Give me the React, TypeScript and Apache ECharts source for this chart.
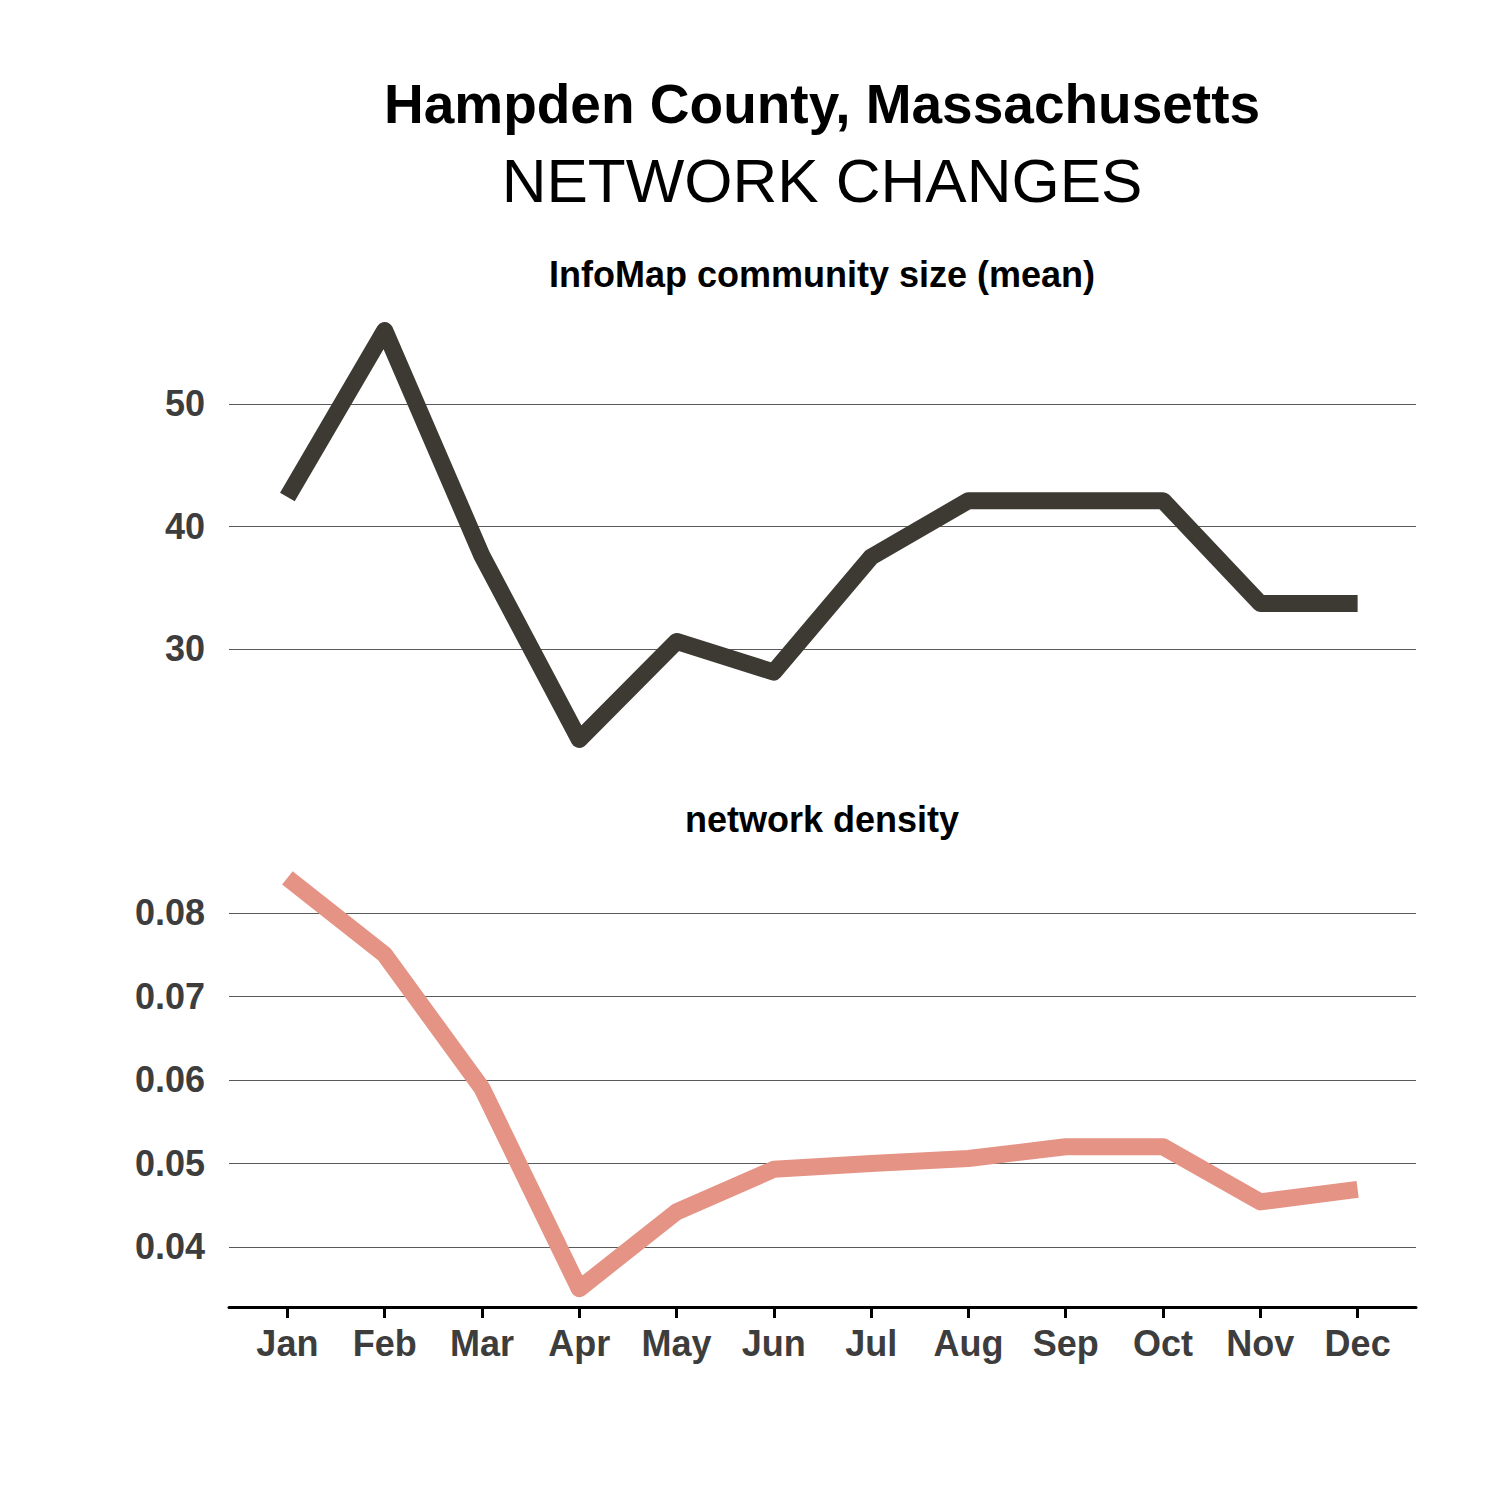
import React, { useEffect, useRef } from "react";
import * as echarts from "echarts";

const months = ["Jan", "Feb", "Mar", "Apr", "May", "Jun", "Jul", "Aug", "Sep", "Oct", "Nov", "Dec"];
const communitySize = [42.4, 56.0, 37.6, 22.6, 30.6, 28.1, 37.5, 42.1, 42.1, 42.1, 33.7, 33.7];
const networkDensity = [0.0842, 0.075, 0.059, 0.035, 0.0442, 0.0493, 0.05, 0.0506, 0.052, 0.052, 0.0454, 0.0469];
const topTicks = [30, 40, 50];
const bottomTicks = [0.04, 0.05, 0.06, 0.07, 0.08];
const monthIdx = months.map((_, i) => i);

const FONT = "'Liberation Sans', Arial, Helvetica, sans-serif";

export default function App() {
  const ref = useRef<HTMLDivElement>(null);
  useEffect(() => {
    if (!ref.current) return;
    const chart = echarts.init(ref.current, null, { renderer: "svg" });
    const gridLine = { color: "#5a5a5a", width: 1 };
    const yLabel = {
      color: "#3d3d3d",
      fontFamily: FONT,
      fontWeight: "bold" as const,
      fontSize: 36,
      margin: 24,
    };
    const xCommon = {
      type: "value" as const,
      min: -0.6,
      max: 11.6,
      splitLine: { show: false },
    };
    chart.setOption({
      animation: false,
      backgroundColor: "#ffffff",
      graphic: [
        {
          type: "text",
          x: 822,
          y: 104,
          style: {
            text: "Hampden County, Massachusetts",
            font: `bold 55px ${FONT}`,
            fill: "#000",
            textAlign: "center",
            textVerticalAlign: "middle",
          },
        },
        {
          type: "text",
          x: 822,
          y: 180,
          style: {
            text: "NETWORK CHANGES",
            font: `62px ${FONT}`,
            fill: "#000",
            textAlign: "center",
            textVerticalAlign: "middle",
          },
        },
        {
          type: "text",
          x: 822,
          y: 274,
          style: {
            text: "InfoMap community size (mean)",
            font: `bold 36px ${FONT}`,
            fill: "#000",
            textAlign: "center",
            textVerticalAlign: "middle",
          },
        },
        {
          type: "text",
          x: 822,
          y: 819,
          style: {
            text: "network density",
            font: `bold 36px ${FONT}`,
            fill: "#000",
            textAlign: "center",
            textVerticalAlign: "middle",
          },
        },
      ],
      grid: [
        { left: 229, top: 306, width: 1187, height: 453 },
        { left: 229, top: 854.5, width: 1187, height: 452.5 },
      ],
      xAxis: [
        {
          ...xCommon,
          gridIndex: 0,
          axisLine: { show: false },
          axisTick: { show: false },
          axisLabel: { show: false },
        },
        {
          ...xCommon,
          gridIndex: 1,
          axisLine: { show: true, onZero: false, lineStyle: { color: "#000", width: 3 } },
          axisTick: { show: true, length: 11, customValues: monthIdx, lineStyle: { color: "#000", width: 3 } },
          axisLabel: {
            show: true,
            customValues: monthIdx,
            formatter: (v: number) => months[Math.round(v)],
            color: "#3d3d3d",
            fontFamily: FONT,
            fontWeight: "bold",
            fontSize: 36,
            lineHeight: 36,
            margin: 18,
          },
        },
      ],
      yAxis: [
        {
          type: "value",
          gridIndex: 0,
          min: 21,
          max: 58,
          axisLine: { show: false },
          axisTick: { show: true, length: 12, customValues: topTicks, lineStyle: gridLine },
          axisLabel: { ...yLabel, customValues: topTicks, formatter: (v: number) => String(v) },
          splitLine: { show: true, lineStyle: gridLine },
        },
        {
          type: "value",
          gridIndex: 1,
          min: 0.03281,
          max: 0.087,
          axisLine: { show: false },
          axisTick: { show: true, length: 12, customValues: bottomTicks, lineStyle: gridLine },
          axisLabel: { ...yLabel, customValues: bottomTicks, formatter: (v: number) => v.toFixed(2) },
          splitLine: { show: true, lineStyle: gridLine },
        },
      ],
      series: [
        {
          type: "line",
          xAxisIndex: 0,
          yAxisIndex: 0,
          data: communitySize.map((v, i) => [i, v]),
          showSymbol: false,
          clip: false,
          lineStyle: { color: "#3c3a32", width: 17, cap: "butt", join: "round" },
        },
        {
          type: "line",
          xAxisIndex: 1,
          yAxisIndex: 1,
          data: networkDensity.map((v, i) => [i, v]),
          showSymbol: false,
          clip: false,
          lineStyle: { color: "#e59385", width: 17, cap: "butt", join: "round" },
        },
      ],
    });
    return () => chart.dispose();
  }, []);
  return (
    <div
      ref={ref}
      style={{ position: "absolute", left: 0, top: 0, width: 1500, height: 1500, background: "#fff" }}
    />
  );
}
